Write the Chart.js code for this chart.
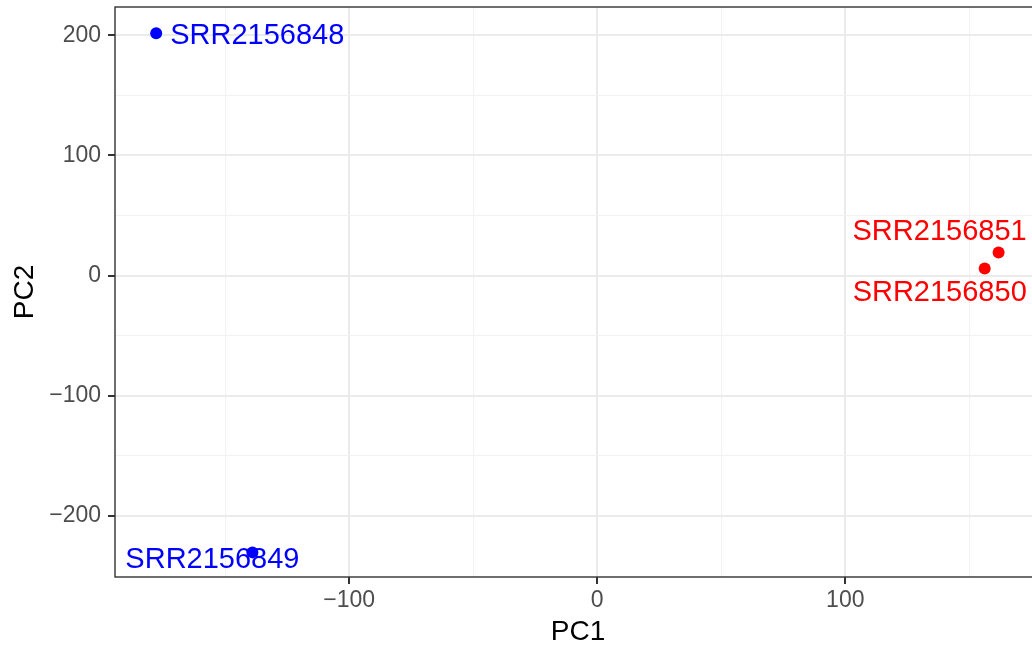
<!DOCTYPE html>
<html>
<head>
<meta charset="utf-8">
<script src="https://cdn.jsdelivr.net/npm/chart.js@4/dist/chart.umd.min.js"></script>
<style>
  html, body { margin: 0; padding: 0; background: #ffffff; overflow: hidden; }
  #wrap { width: 1047px; height: 647px; }
</style>
</head>
<body>
<div id="wrap"><canvas id="pca" width="1047" height="647"></canvas></div>
<script>
// PCA scores per sample
const samples = ['SRR2156848', 'SRR2156849', 'SRR2156850', 'SRR2156851'];
const pc1 = [-177.8, -139.0, 156.2, 161.8];
const pc2 = [201.7, -230.5, 5.8, 19.1];
const groupColors = ['#0000FF', '#0000FF', '#FF0000', '#FF0000'];

// axis breaks (major every 100, minor halfway)
const xTicks = [-150, -100, -50, 0, 50, 100, 150];
const yTicks = [-200, -150, -100, -50, 0, 50, 100, 150, 200];
const xRange = [-194.4, 178.9];
const yRange = [-251.0, 223.6];

const FONT = '"Liberation Sans", Arial, Helvetica, sans-serif';
const isMajor = v => Math.abs(v % 100) < 1e-9;
const fmt = v => (v < 0 ? '\u2212' + Math.abs(v) : String(v));

const points = samples.map((s, i) => ({ x: pc1[i], y: pc2[i], label: s }));

// sample name text, placed next to each point (dx, dy in px, alignment)
const labelPlugin = {
  id: 'sampleLabels',
  afterDatasetsDraw(chart, args, opts) {
    const { ctx } = chart;
    const meta = chart.getDatasetMeta(0);
    ctx.save();
    ctx.font = opts.size + 'px ' + FONT;
    ctx.textBaseline = 'alphabetic';
    meta.data.forEach((el, i) => {
      const [dx, dy, align] = opts.place[i];
      ctx.fillStyle = groupColors[i];
      ctx.textAlign = align;
      ctx.fillText(points[i].label, el.x + dx, el.y + dy + opts.size * 0.358);
    });
    ctx.restore();
  }
};

// full panel border (theme_bw style)
const borderPlugin = {
  id: 'panelBorder',
  afterDraw(chart) {
    const { ctx, chartArea: a } = chart;
    ctx.save();
    ctx.strokeStyle = '#333333';
    ctx.lineWidth = 1.4;
    ctx.strokeRect(a.left, a.top, a.right - a.left, a.bottom - a.top);
    ctx.restore();
  }
};

const gridOpts = {
  color: c => (c.tick && isMajor(c.tick.value) ? '#EBEBEB' : '#F2F2F2'),
  lineWidth: c => (c.tick && isMajor(c.tick.value) ? 2 : 1.1),
  tickColor: c => (c.tick && isMajor(c.tick.value) ? '#333333' : 'rgba(0,0,0,0)'),
  tickWidth: 2,
  tickLength: 7,
  drawTicks: true
};

const noEdgePadding = s => {
  s.paddingTop = 0; s.paddingBottom = 0;
  s.paddingLeft = 0; s.paddingRight = 0;
};

new Chart(document.getElementById('pca'), {
  type: 'scatter',
  data: {
    datasets: [{
      data: points,
      backgroundColor: groupColors,
      borderColor: groupColors,
      borderWidth: 0,
      pointRadius: 6,
      pointHoverRadius: 6
    }]
  },
  options: {
    responsive: false,
    animation: false,
    devicePixelRatio: 1,
    layout: { padding: { top: 7, right: 1, left: 0, bottom: 0 } },
    plugins: {
      legend: { display: false },
      tooltip: { enabled: false },
      sampleLabels: {
        size: 29,
        place: [[14, 0, 'left'], [-40, 5, 'center'], [-45, 22, 'center'], [-59, -23, 'center']]
      }
    },
    scales: {
      x: {
        type: 'linear',
        min: xRange[0],
        max: xRange[1],
        afterBuildTicks: s => { s.ticks = xTicks.map(v => ({ value: v })); },
        afterFit: s => { s.height = 70; noEdgePadding(s); },
        grid: gridOpts,
        border: { display: false },
        ticks: {
          autoSkip: false,
          maxRotation: 0,
          padding: 3,
          color: '#4D4D4D',
          font: { family: FONT, size: 23 },
          callback: v => (isMajor(v) ? fmt(v) : '')
        },
        title: {
          display: true,
          text: 'PC1',
          color: '#000000',
          font: { family: FONT, size: 28, lineHeight: 1 },
          padding: { top: 0, bottom: 1 }
        }
      },
      y: {
        type: 'linear',
        min: yRange[0],
        max: yRange[1],
        afterBuildTicks: s => { s.ticks = yTicks.map(v => ({ value: v })); },
        afterFit: s => { s.width = 115; noEdgePadding(s); },
        grid: gridOpts,
        border: { display: false },
        ticks: {
          autoSkip: false,
          padding: 7,
          color: '#4D4D4D',
          font: { family: FONT, size: 23 },
          callback: v => (isMajor(v) ? fmt(v) : '')
        },
        title: {
          display: true,
          text: 'PC2',
          color: '#000000',
          font: { family: FONT, size: 28, lineHeight: 1 },
          padding: { top: 11, bottom: 0 }
        }
      }
    }
  },
  plugins: [labelPlugin, borderPlugin]
});
</script>
</body>
</html>
